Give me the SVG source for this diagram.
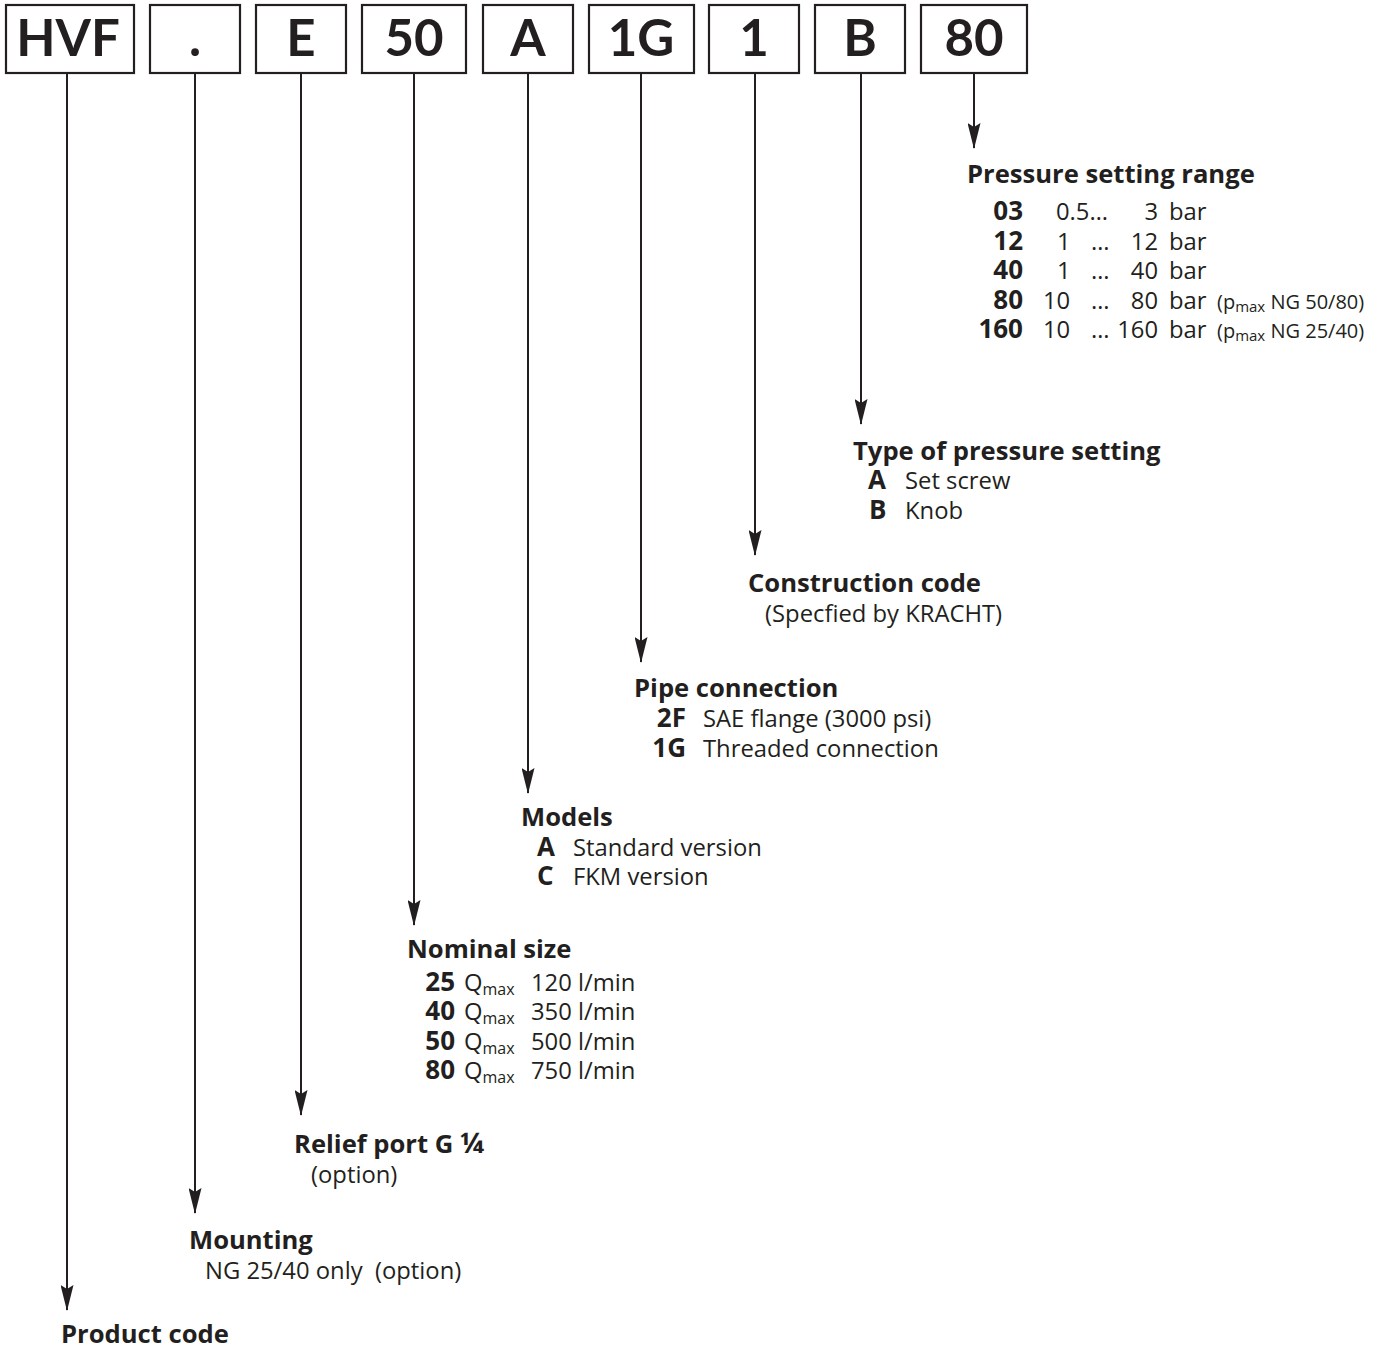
<svg xmlns="http://www.w3.org/2000/svg" width="1388" height="1350" viewBox="0 0 1388 1350">
<defs>
<style>
.box{fill:#fff;stroke:#231f20;stroke-width:2.2}
.code{font-family:Lato,"Noto Sans",sans-serif;font-weight:700;font-size:51px;fill:#231f20;text-anchor:middle}
.t{font-family:"Open Sans","Noto Sans",sans-serif;font-weight:700;font-size:25.6px;fill:#231f20}
.b{font-family:"Open Sans","Noto Sans",sans-serif;font-weight:700;font-size:26px;fill:#231f20}
.r{font-family:"Open Sans","Noto Sans",sans-serif;font-weight:400;font-size:23.8px;fill:#231f20}
.p{font-size:20px}
.s{font-size:15px}
.sq{font-size:16px}
.fr{font-size:29px}
.ra{text-anchor:end}
.conn line{stroke:#231f20;stroke-width:2;marker-end:url(#ah)}
</style>
<marker id="ah" markerUnits="userSpaceOnUse" markerWidth="26" markerHeight="13" viewBox="0 0 26 13" refX="25" refY="6.5" orient="auto">
<path d="M0,0 L4,6.5 L0,13 L26,6.5 Z" fill="#231f20"/>
</marker>
</defs>
<rect width="1388" height="1350" fill="#fff"/>
<g id="boxes">
<g id="b-hvf"><rect class="box" x="6" y="5" width="128" height="68"/><text class="code" x="68" y="56">HVF</text></g>
<g id="b-dot"><rect class="box" x="150" y="5" width="90" height="68"/><text class="code" x="195" y="56">.</text></g>
<g id="b-e"><rect class="box" x="256" y="5" width="90" height="68"/><text class="code" x="301" y="56">E</text></g>
<g id="b-50"><rect class="box" x="362" y="5" width="104" height="68"/><text class="code" x="414" y="56">50</text></g>
<g id="b-a"><rect class="box" x="483" y="5" width="90" height="68"/><text class="code" x="528" y="56">A</text></g>
<g id="b-1g"><rect class="box" x="589" y="5" width="105" height="68"/><text class="code" x="641" y="56">1G</text></g>
<g id="b-1"><rect class="box" x="709" y="5" width="90" height="68"/><text class="code" x="754" y="56">1</text></g>
<g id="b-b"><rect class="box" x="815" y="5" width="90" height="68"/><text class="code" x="860" y="56">B</text></g>
<g id="b-80"><rect class="box" x="921" y="5" width="106" height="68"/><text class="code" x="974" y="56">80</text></g>
</g>
<g class="conn" id="connectors">
<line x1="67" y1="74" x2="67" y2="1310"/>
<line x1="195" y1="74" x2="195" y2="1213"/>
<line x1="301" y1="74" x2="301" y2="1115"/>
<line x1="414" y1="74" x2="414" y2="925"/>
<line x1="528" y1="74" x2="528" y2="793"/>
<line x1="641" y1="74" x2="641" y2="662"/>
<line x1="755" y1="74" x2="755" y2="555"/>
<line x1="861" y1="74" x2="861" y2="424"/>
<line x1="974" y1="74" x2="974" y2="148"/>
</g>
<g id="n-pressure">
<text class="t" x="967" y="183">Pressure setting range</text>
<text class="b ra" x="1023" y="220">03</text><text class="r" x="1056" y="220">0.5…</text><text class="r ra" x="1158" y="220">3</text><text class="r" x="1169" y="220">bar</text>
<text class="b ra" x="1023" y="250">12</text><text class="r" x="1057" y="250">1</text><text class="r" x="1091" y="250">…</text><text class="r ra" x="1158" y="250">12</text><text class="r" x="1169" y="250">bar</text>
<text class="b ra" x="1023" y="279">40</text><text class="r" x="1057" y="279">1</text><text class="r" x="1091" y="279">…</text><text class="r ra" x="1158" y="279">40</text><text class="r" x="1169" y="279">bar</text>
<text class="b ra" x="1023" y="309">80</text><text class="r" x="1043" y="309">10</text><text class="r" x="1091" y="309">…</text><text class="r ra" x="1158" y="309">80</text><text class="r" x="1169" y="309">bar</text><text class="r p" x="1217" y="309">(p<tspan class="s" dy="3">max</tspan><tspan dy="-3"> NG 50/80)</tspan></text>
<text class="b ra" x="1023" y="338">160</text><text class="r" x="1043" y="338">10</text><text class="r" x="1091" y="338">…</text><text class="r ra" x="1158" y="338">160</text><text class="r" x="1169" y="338">bar</text><text class="r p" x="1217" y="338">(p<tspan class="s" dy="3">max</tspan><tspan dy="-3"> NG 25/40)</tspan></text>
</g>
<g id="n-type">
<text class="t" x="853" y="460">Type of pressure setting</text>
<text class="b" x="868" y="489">A</text><text class="r" x="905" y="489">Set screw</text>
<text class="b" x="869" y="519">B</text><text class="r" x="905" y="519">Knob</text>
</g>
<g id="n-construction">
<text class="t" x="748" y="592">Construction code</text>
<text class="r" x="765" y="622">(Specfied by KRACHT)</text>
</g>
<g id="n-pipe">
<text class="t" x="634" y="697">Pipe connection</text>
<text class="b ra" x="686" y="727">2F</text><text class="r" x="703" y="727">SAE flange (3000 psi)</text>
<text class="b ra" x="686" y="757">1G</text><text class="r" x="703" y="757">Threaded connection</text>
</g>
<g id="n-models">
<text class="t" x="521" y="826">Models</text>
<text class="b" x="537" y="856">A</text><text class="r" x="573" y="856">Standard version</text>
<text class="b" x="537" y="885">C</text><text class="r" x="573" y="885">FKM version</text>
</g>
<g id="n-nominal">
<text class="t" x="407" y="958">Nominal size</text>
<text class="b ra" x="455" y="991">25</text><text class="r" x="464" y="991">Q<tspan class="sq" dy="4">max</tspan></text><text class="r" x="531" y="991">120 l/min</text>
<text class="b ra" x="455" y="1020">40</text><text class="r" x="464" y="1020">Q<tspan class="sq" dy="4">max</tspan></text><text class="r" x="531" y="1020">350 l/min</text>
<text class="b ra" x="455" y="1050">50</text><text class="r" x="464" y="1050">Q<tspan class="sq" dy="4">max</tspan></text><text class="r" x="531" y="1050">500 l/min</text>
<text class="b ra" x="455" y="1079">80</text><text class="r" x="464" y="1079">Q<tspan class="sq" dy="4">max</tspan></text><text class="r" x="531" y="1079">750 l/min</text>
</g>
<g id="n-relief">
<text class="t" x="294" y="1153">Relief port G <tspan class="fr">¼</tspan></text>
<text class="r" x="311" y="1183">(option)</text>
</g>
<g id="n-mounting">
<text class="t" x="189" y="1249">Mounting</text>
<text class="r" x="205" y="1279">NG 25/40 only&#160; (option)</text>
</g>
<g id="n-product">
<text class="t" x="61" y="1343">Product code</text>
</g>
</svg>
